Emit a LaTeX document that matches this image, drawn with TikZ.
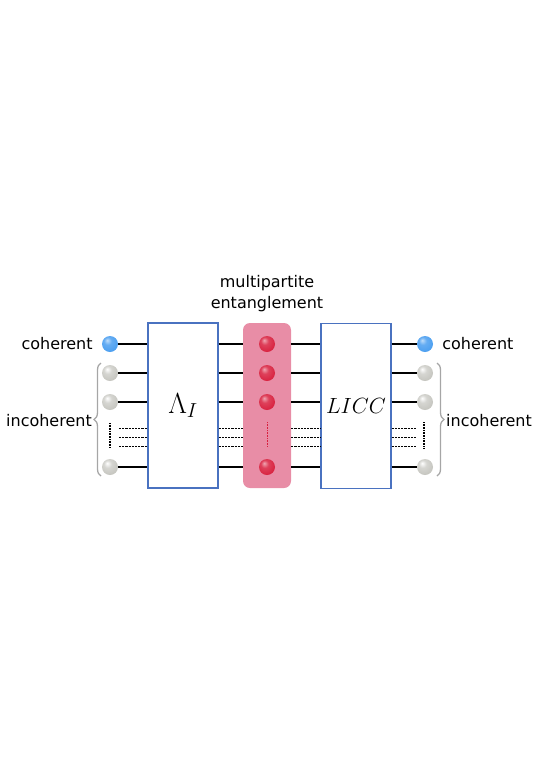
\RequirePackage{fix-cm}
\documentclass[tikz,border=0pt]{standalone}
\usepackage{amsmath,amssymb}
\usepackage{xcolor}
\usepackage{fontspec}
\setmainfont{DejaVu Sans}
\usepackage{tikz}
\usetikzlibrary{positioning,calc,decorations.pathreplacing}

\definecolor{boxblue}{HTML}{4A72C0}
\definecolor{entpink}{HTML}{E88DA6}
\definecolor{qblue}{HTML}{4A9EF0}
\definecolor{qgray}{HTML}{C4C4BE}
\definecolor{qred}{HTML}{D8203E}

% glossy balls for the qubits
\pgfdeclareradialshading{qballblue}{\pgfpoint{-9bp}{12bp}}{color(0bp)=(qblue!35!white); color(12bp)=(qblue!85!white); color(32bp)=(qblue); color(45bp)=(qblue!80!black); color(60bp)=(qblue!70!black)}
\pgfdeclareradialshading{qballgray}{\pgfpoint{-9bp}{12bp}}{color(0bp)=(white); color(12bp)=(qgray!70!white); color(32bp)=(qgray); color(45bp)=(qgray!80!black); color(60bp)=(qgray!70!black)}
\pgfdeclareradialshading{qballred}{\pgfpoint{-9bp}{12bp}}{color(0bp)=(qred!40!white); color(12bp)=(qred!85!white); color(32bp)=(qred); color(45bp)=(qred!80!black); color(60bp)=(qred!70!black)}

\tikzset{
	qubit/.style={circle, minimum size=16pt, inner sep=0pt},
	bluequbit/.style={qubit, shading=qballblue},
	grayqubit/.style={qubit, shading=qballgray},
	redqubit/.style={qubit, shading=qballred},
	gatebox/.style={draw=boxblue, fill=white, line width=1.2pt, inner sep=0pt, minimum width=70pt, minimum height=165pt},
	wire/.style={line width=2.3pt},
	dwire/.style={line width=0.9pt, dash pattern=on 2.2pt off 1pt},
	vdots/.style={line width=1.6pt, dash pattern=on 0.8pt off 0.8pt},
	label/.style={font=\fontsize{16}{18}\selectfont, inner sep=0pt},
	gbrace/.style={draw=gray!70, line width=1.3pt, decorate, decoration={brace, amplitude=7pt}}
}

\begin{document}
\begin{tikzpicture}[x=1pt, y=-1pt]
		\useasboundingbox (0,0) rectangle (540,764);

		% gates and entanglement block
		\node[gatebox, font=\fontsize{29}{32}\selectfont] (lam) at (183,405.5) {$\Lambda_I$};
		\node[gatebox, font=\fontsize{22}{25}\selectfont] (licc) at (356,406) {$LICC$};
		\node[fill=entpink, rounded corners=7pt, minimum width=48pt, minimum height=165pt] (ent) at (267,405.5) {};
		\node[label, align=center] (entlab) at (267,294) {multipartite\\[3pt]entanglement};

		% input qubits
		\node[bluequbit] (in1) at (110,344) {};
		\node[grayqubit] (in2) at (110,373) {};
		\node[grayqubit] (in3) at (110,402) {};
		\node[grayqubit] (in4) at (110,467) {};

		% entangled qubits
		\node[redqubit] (e1) at (267,344) {};
		\node[redqubit] (e2) at (267,373) {};
		\node[redqubit] (e3) at (267,402) {};
		\node[redqubit] (e4) at (267,467) {};

		% output qubits
		\node[bluequbit] (out1) at (425,344) {};
		\node[grayqubit] (out2) at (425,373) {};
		\node[grayqubit] (out3) at (425,402) {};
		\node[grayqubit] (out4) at (425,467) {};

		% solid wires
		\foreach \i in {1,2,3,4} {
			\draw[wire] (in\i) -- (in\i -| lam.west);
			\draw[wire] (lam.east |- e\i) -- (ent.west |- e\i);
			\draw[wire] (ent.east |- e\i) -- (licc.west |- e\i);
			\draw[wire] (licc.east |- out\i) -- (out\i);
		}

		% dashed wires
		\foreach \y [count=\k] in {428,437,446} {
			\coordinate (dl\k) at (119,\y);
			\coordinate (dr\k) at (417,\y);
			\draw[dwire] (dl\k) -- (dl\k -| lam.west);
			\draw[dwire] (lam.east |- dl\k) -- (ent.west |- dl\k);
			\draw[dwire] (ent.east |- dl\k) -- (licc.west |- dl\k);
			\draw[dwire] (licc.east |- dr\k) -- (dr\k);
		}

		% vertical dots
		\coordinate (vl1) at (110,423);
		\coordinate (vl2) at (110,448);
		\coordinate (ve1) at (267,422);
		\coordinate (ve2) at (267,447);
		\coordinate (vr1) at (424,422);
		\coordinate (vr2) at (424,448);
		\draw[vdots] (vl1) -- (vl2);
		\draw[vdots] (vr1) -- (vr2);
		\draw[vdots, qred, line width=1pt] (ve1) -- (ve2);

		% braces
		\coordinate (bl1) at (101,476);
		\coordinate (bl2) at (101,363);
		\coordinate (br1) at (437,363);
		\coordinate (br2) at (437,476);
		\draw[gbrace] (bl1) -- (bl2);
		\draw[gbrace] (br1) -- (br2);

		% labels
		\node[label, left=9pt of in1] (cohL) {coherent};
		\node[label, right=9pt of out1] (cohR) {coherent};
		\node[label, anchor=east] (incL) at (92,421) {incoherent};
		\node[label, anchor=west] (incR) at (446,421) {incoherent};
	\end{tikzpicture}
\end{document}
